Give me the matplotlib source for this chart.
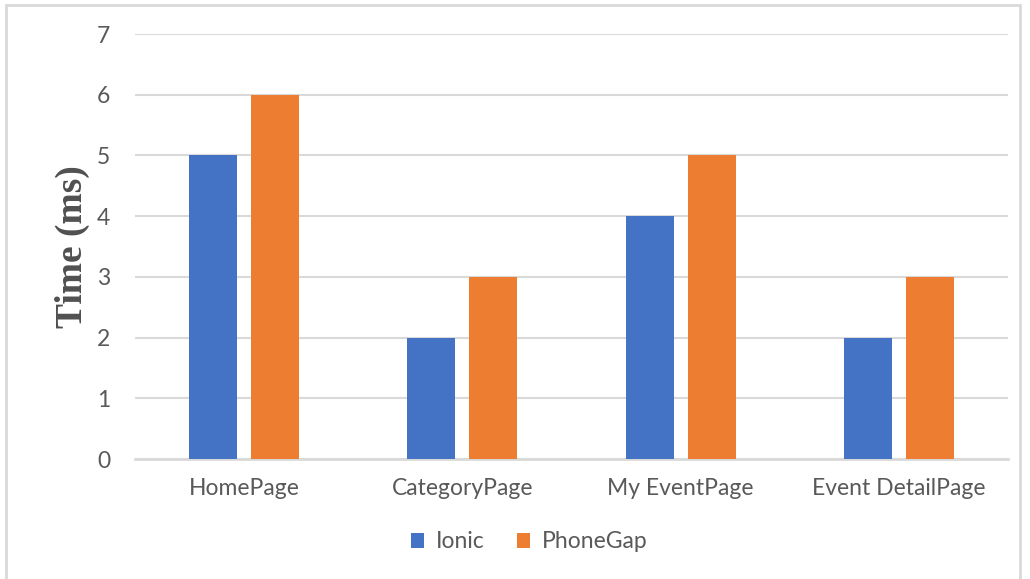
import matplotlib
matplotlib.use("Agg")
import matplotlib.pyplot as plt
from matplotlib.patches import Rectangle
import numpy as np

categories = ["HomePage", "CategoryPage", "My EventPage", "Event DetailPage"]
ionic = [5, 2, 4, 2]
phonegap = [6, 3, 5, 3]
series_names = ["Ionic", "PhoneGap"]
colors = ["#4472C4", "#ED7D31"]
yticks = [0, 1, 2, 3, 4, 5, 6, 7]

W, H = 1030, 579
fig = plt.figure(figsize=(W / 100, H / 100), dpi=100)
fig.patch.set_facecolor("white")
fig.patches.append(Rectangle((6 / W, -0.01), (1020 - 6) / W, 1 - 5 / H + 0.01,
                             transform=fig.transFigure, fill=False,
                             edgecolor="#d9d9d9", linewidth=2))

ax = fig.add_axes([135 / W, 1 - 459 / H, (1008 - 135) / W, (459 - 34) / H])
x = np.arange(len(categories))
bw = 0.22
off = 0.142
ax.bar(x - off, ionic, bw, color=colors[0], label=series_names[0], zorder=3)
ax.bar(x + off, phonegap, bw, color=colors[1], label=series_names[1], zorder=3)

ax.set_xlim(-0.5, len(categories) - 0.5)
ax.set_ylim(0, 7)
ax.set_yticks(yticks)
ax.set_yticklabels([str(v) for v in yticks])
ax.set_xticks(x)
ax.set_xticklabels(categories)
ax.grid(axis="y", color="#d9d9d9", linewidth=1.5, zorder=0)
for s in ["top", "right", "left"]:
    ax.spines[s].set_visible(False)
ax.spines["bottom"].set_color("#d9d9d9")
ax.spines["bottom"].set_linewidth(2)
FS = 16.5
ax.tick_params(axis="both", length=0, colors="#595959", labelsize=FS)
ax.tick_params(axis="y", pad=18)
ax.tick_params(axis="x", pad=14)
for lab in ax.get_xticklabels() + ax.get_yticklabels():
    lab.set_family("Lato")

ax.set_ylabel("Time (ms)", fontfamily="Liberation Serif", fontweight="bold",
              fontsize=27, color="#505050", labelpad=5)

leg = fig.legend(loc="center", bbox_to_anchor=(529 / W, 1 - 542 / H), ncol=2,
                 frameon=False, handlelength=0.6, handleheight=0.6,
                 handletextpad=0.5, columnspacing=1.4,
                 prop={"family": "Lato", "size": FS})
for t in leg.get_texts():
    t.set_color("#595959")

fig.savefig("out.png", dpi=100)
